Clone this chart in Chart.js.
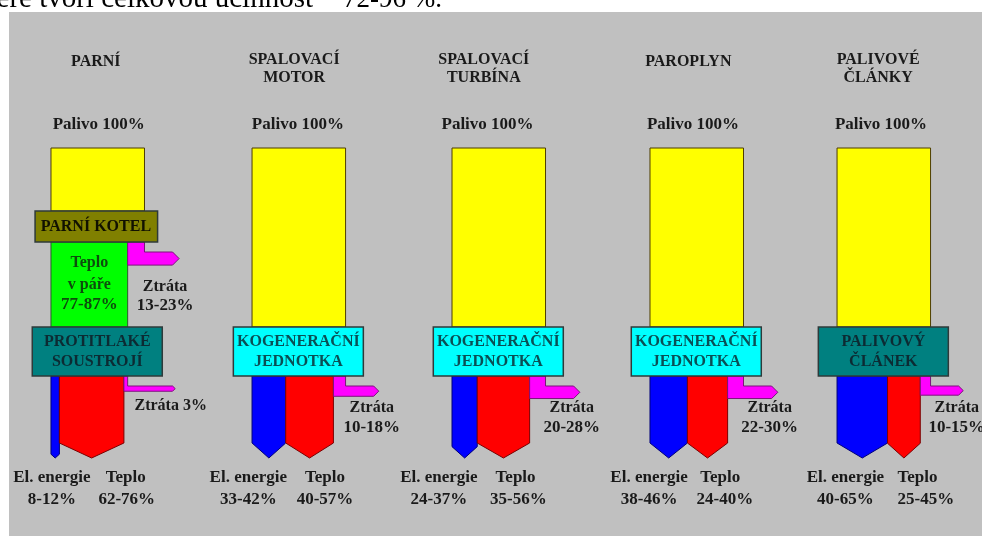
<!DOCTYPE html>
<html>
<head>
<meta charset="utf-8">
<title>Kogenerace - toky energie</title>
<script src="https://cdn.jsdelivr.net/npm/chart.js@4.4.1/dist/chart.umd.min.js"></script>
<style>
  body { margin: 0; background: #fff; }
  #wrap { width: 982px; height: 536px; }
</style>
</head>
<body>
<div id="wrap"><canvas id="flow-chart" width="982" height="536"></canvas></div>
<script>
// values (share of fuel, % of 100)
const categories = [["PARNÍ"], ["SPALOVACÍ", "MOTOR"], ["SPALOVACÍ", "TURBÍNA"], ["PAROPLYN"], ["PALIVOVÉ", "ČLÁNKY"]];
const fuelValues = [100, 100, 100, 100, 100];
const elValues = [9, 36, 27, 40, 54];
const heatValues = [69, 51, 56, 43, 35];
const lossValues = [4, 13, 17, 17, 11];
const elLabels = ["8-12%", "33-42%", "24-37%", "38-46%", "40-65%"];
const heatLabels = ["62-76%", "40-57%", "35-56%", "24-40%", "25-45%"];
const lossLabels = ["3%", "10-18%", "20-28%", "22-30%", "10-15%"];
const unitNames = [["PROTITLAKÉ", "SOUSTROJÍ"], ["KOGENERAČNÍ", "JEDNOTKA"], ["KOGENERAČNÍ", "JEDNOTKA"], ["KOGENERAČNÍ", "JEDNOTKA"], ["PALIVOVÝ", "ČLÁNEK"]];

// steam boiler stage, PARNÍ only
const steamValue = 82;
const boilerLossValue = 18;
const steamLabels = ["Teplo", "v páře", "77-87%"];
const boilerLossLabel = "13-23%";
const boilerName = "PARNÍ KOTEL";

const headerText = ["které tvoří celkovou účinnost", "72-96 %."];

// layout (x in fuel units from column start, y in px levels)
const colStart = [54.5, 269.5, 483.3, 695, 895];
const titleX = [48, 45, 34, 41, 44];
const fuelLabelX = [51, 49, 38, 46, 47];
const elTextX = [1, -4, -14, -1, 9];
const heatTextX = [80, 78, 68, 75, 86];
const heatValueX = [81, 78, 71, 80, 95];
const lossReach = 130;
const lossTextX = 128;

// styles
const unitFill = ["#008080", "#00ffff", "#00ffff", "#00ffff", "#008080"];
const unitInk = ["#0c2b33", "#0a4f55", "#0a4f55", "#0a4f55", "#0c2b33"];
const ink = "#1a1a1a";
const bold16 = 'bold 16px "Liberation Serif"';
const bold17 = 'bold 17px "Liberation Serif"';

function label(c, str, x, y, font, color) {
  c.font = font;
  c.fillStyle = color || ink;
  c.textAlign = "center";
  c.textBaseline = "middle";
  c.fillText(str, x, y);
}

function shape(c, pts, fill, stroke, lw) {
  c.beginPath();
  c.moveTo(pts[0][0], pts[0][1]);
  for (let k = 1; k < pts.length; k++) c.lineTo(pts[k][0], pts[k][1]);
  c.closePath();
  c.fillStyle = fill;
  c.fill();
  c.lineWidth = lw || 1;
  c.strokeStyle = stroke;
  c.stroke();
}

// flow going down, ends with a point
function downArrow(c, x0, x1, top, tip, fill, stroke) {
  const depth = Math.min(15, (x1 - x0) * 0.45);
  shape(c, [[x0, top], [x1, top], [x1, tip - depth], [(x0 + x1) / 2, tip], [x0, tip - depth]], fill, stroke);
}

// loss flow: short drop, then bends right
function lossArrow(c, x0, x1, top, reach) {
  const drop = 10;
  const t = 3 + (x1 - x0) * 0.6;
  shape(c, [[x0, top], [x1, top], [x1, top + drop], [reach, top + drop], [reach + t / 2, top + drop + t / 2], [reach, top + drop + t], [x0, top + drop + t]], "#ff00ff", "#7a147a");
}

function box(c, x0, x1, y0, y1, fill) {
  shape(c, [[x0, y0], [x1, y0], [x1, y1], [x0, y1]], fill, "#2e3a3a", 1.5);
}

const flowPlugin = {
  id: "flowDiagram",
  beforeDraw: function (chart) {
    const c = chart.ctx;
    c.save();
    c.fillStyle = "#ffffff";
    c.fillRect(0, 0, chart.width, chart.height);
    c.fillStyle = "#000000";
    c.textAlign = "right";
    c.textBaseline = "alphabetic";
    c.font = '29px "Liberation Serif"';
    c.fillText(headerText[0], 313, 7);
    c.font = '27px "Liberation Serif"';
    c.fillText(headerText[1], 442, 7);
    c.fillStyle = "#c0c0c0";
    c.fillRect(9, 12, chart.width - 9, chart.height - 12);
    c.restore();
  },
  afterDraw: function (chart) {
    const c = chart.ctx;
    const xs = chart.scales.x;
    const ys = chart.scales.y;
    c.save();
    categories.forEach(function (title, i) {
      const px = function (v) { return xs.getPixelForValue(colStart[i] + v); };
      const py = function (v) { return ys.getPixelForValue(v); };

      // titles
      if (title.length === 1) {
        label(c, title[0], px(titleX[i]), py(62), bold16);
      } else {
        label(c, title[0], px(titleX[i]), py(60), bold16);
        label(c, title[1], px(titleX[i]), py(78), bold16);
      }
      label(c, "Palivo " + fuelValues[i] + "%", px(fuelLabelX[i]), py(125), bold17);

      // fuel
      const fuelEnd = i === 0 ? 211 : 327;
      shape(c, [[px(0), py(148)], [px(fuelValues[i]), py(148)], [px(fuelValues[i]), py(fuelEnd)], [px(0), py(fuelEnd)]], "#ffff00", "#4d3d00");

      if (i === 0) {
        // boiler stage
        shape(c, [[px(0), py(242)], [px(steamValue), py(242)], [px(steamValue), py(327)], [px(0), py(327)]], "#00ff00", "#2d5a2d");
        lossArrow(c, px(steamValue), px(steamValue + boilerLossValue), py(242), px(lossReach));
        box(c, px(-17), px(114), py(211), py(242), "#808000");
        label(c, boilerName, px(48), py(227), bold16, "#111100");
        label(c, steamLabels[0], px(steamValue / 2), py(263), bold16, "#0d4d0d");
        label(c, steamLabels[1], px(steamValue / 2), py(285), bold16, "#0d4d0d");
        label(c, steamLabels[2], px(steamValue / 2), py(305), bold17, "#0d4d0d");
        label(c, "Ztráta", px(122), py(287), bold16);
        label(c, boilerLossLabel, px(122), py(306), bold17);
      }

      // outputs
      const e = elValues[i];
      const h = e + heatValues[i];
      const l = h + lossValues[i];
      downArrow(c, px(0), px(e), py(376), py(458), "#0000ff", "#00007a");
      downArrow(c, px(e), px(h), py(376), py(458), "#ff0000", "#7a0000");
      lossArrow(c, px(h), px(l), py(376), px(lossReach));

      // conversion unit
      box(c, px(-20), px(119), py(327), py(376), unitFill[i]);
      label(c, unitNames[i][0], px(49.5), py(342), bold16, unitInk[i]);
      label(c, unitNames[i][1], px(49.5), py(362), bold16, unitInk[i]);

      // loss text
      if (i === 0) {
        label(c, "Ztráta " + lossLabels[i], px(lossTextX), py(406), bold16);
      } else {
        label(c, "Ztráta", px(lossTextX), py(408), bold16);
        label(c, lossLabels[i], px(lossTextX), py(428), bold17);
      }

      // output text
      label(c, "El. energie", px(elTextX[i]), py(478), bold17);
      label(c, elLabels[i], px(elTextX[i]), py(500), bold17);
      label(c, "Teplo", px(heatTextX[i]), py(478), bold17);
      label(c, heatLabels[i], px(heatValueX[i]), py(500), bold17);
    });
    c.restore();
  }
};

const ctx = document.getElementById("flow-chart");
const flowChart = new Chart(ctx, {
  type: "scatter",
  data: { datasets: [] },
  options: {
    responsive: false,
    animation: false,
    layout: { padding: 0 },
    plugins: {
      legend: { display: false },
      tooltip: { enabled: false },
    },
    scales: {
      x: { type: "linear", min: 0, max: 1050, display: false },
      y: { type: "linear", min: 0, max: 536, reverse: true, display: false },
    },
  },
  plugins: [flowPlugin],
});
</script>
</body>
</html>
